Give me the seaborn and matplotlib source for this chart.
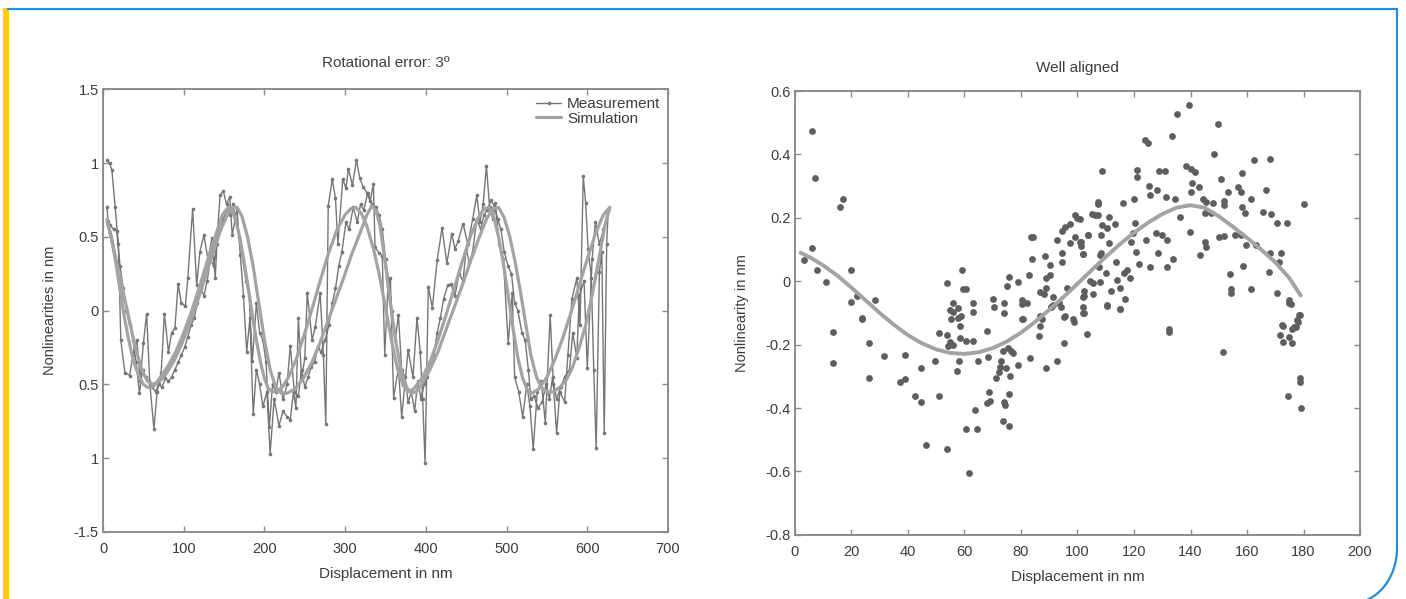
import numpy as np
import pandas as pd
import seaborn as sns
import matplotlib.pyplot as plt
from matplotlib.patches import Arc
from matplotlib.lines import Line2D

### DATA

# left panel: measurement, forward sweep (displacement nm, nonlinearity nm)
meas_fwd = [(5, 1.02), (8, 1.00), (11, 0.95), (15, 0.70), (19, 0.45), (22, -0.20), (27, -0.42), (33, -0.44),
            (37, -0.30), (42, -0.20), (46, -0.48), (50, -0.22), (54, -0.02), (58, -0.50), (63, -0.80), (67, -0.55),
            (72, -0.42), (76, -0.02), (81, -0.28), (85, -0.15), (89, -0.12), (93, 0.18), (97, 0.05), (102, 0.03),
            (105, 0.22), (111, 0.69), (116, 0.17), (120, 0.40), (125, 0.51), (130, 0.35), (135, 0.49), (139, 0.22),
            (142, 0.55), (145, 0.78), (149, 0.81), (153, 0.72), (157, 0.77), (160, 0.51), (166, 0.69), (170, 0.38),
            (174, 0.10), (178, -0.28), (182, -0.05), (186, -0.70), (190, -0.40), (194, -0.50), (198, -0.65),
            (203, -0.55), (207, -0.97), (212, -0.60), (218, -0.78), (223, -0.68), (228, -0.72), (232, -0.74),
            (236, -0.55), (239, -0.66), (242, -0.05), (246, -0.46), (250, -0.32), (253, 0.12), (259, -0.20),
            (263, -0.11), (269, 0.12), (273, -0.30), (276, -0.77), (279, 0.71), (284, 0.89), (288, 0.76),
            (291, 0.45), (297, 0.89), (301, 0.83), (304, 0.96), (309, 0.85), (314, 1.02), (318, 0.90), (322, 0.84),
            (327, 0.80), (331, 0.74), (335, 0.86), (337, 0.43), (342, 0.39), (346, 0.37), (349, -0.30), (353, 0.16),
            (356, 0.22), (360, -0.59), (366, -0.39), (370, -0.72), (374, -0.50), (378, -0.27), (384, -0.45),
            (389, -0.05), (393, -0.28), (396, -0.60), (399, -1.03), (403, 0.16), (408, 0.02), (414, 0.34),
            (420, 0.56), (426, 0.32), (432, 0.52), (436, 0.42), (440, 0.47), (446, 0.59), (452, 0.45), (458, 0.62),
            (463, 0.78), (467, 0.60), (471, 0.72), (475, 0.98), (479, 0.70), (483, 0.62), (486, 0.73), (491, 0.45),
            (496, 0.35), (502, -0.22), (507, 0.12), (510, -0.45), (515, -0.55), (520, -0.72), (525, -0.50),
            (529, -0.65), (533, -0.94), (538, -0.55), (543, -0.48), (548, -0.76), (554, -0.03), (558, -0.50),
            (562, -0.83), (566, -0.55), (572, -0.62), (576, -0.30), (581, 0.08), (587, 0.22), (591, -0.10),
            (595, 0.91), (598, 0.73), (601, 0.42), (605, 0.22), (608, -0.40), (611, -0.93), (615, 0.26),
            (618, 0.40), (621, -0.83), (624, 0.45), (626, 0.68)]

# left panel: measurement, return sweep
meas_back = [(626, 0.68), (620, 0.55), (615, 0.45), (610, 0.60), (606, 0.35), (600, -0.39), (596, 0.20),
             (590, 0.10), (587, -0.32), (582, -0.15), (578, -0.40), (572, -0.45), (567, -0.52), (562, -0.60),
             (557, -0.45), (553, -0.60), (549, -0.50), (544, -0.62), (539, -0.66), (534, -0.58), (530, -0.60),
             (527, -0.40), (523, -0.20), (519, -0.15), (514, 0.00), (510, 0.05), (506, 0.25), (502, 0.30),
             (497, 0.40), (493, 0.55), (489, 0.62), (485, 0.70), (481, 0.75), (476, 0.68), (472, 0.65),
             (468, 0.55), (463, 0.62), (458, 0.40), (454, 0.32), (450, 0.42), (446, 0.20), (441, 0.25),
             (436, 0.10), (431, 0.18), (427, 0.17), (422, 0.08), (418, -0.05), (414, -0.15), (410, -0.30),
             (406, -0.35), (402, -0.45), (398, -0.50), (394, -0.60), (390, -0.48), (386, -0.68), (382, -0.55),
             (378, -0.62), (374, -0.45), (370, -0.40), (366, -0.03), (362, -0.20), (358, 0.00), (354, 0.20),
             (350, 0.35), (346, 0.55), (342, 0.65), (338, 0.70), (333, 0.72), (328, 0.80), (323, 0.68),
             (319, 0.72), (315, 0.60), (310, 0.70), (305, 0.55), (301, 0.60), (296, 0.40), (292, 0.30),
             (288, 0.15), (284, 0.05), (280, -0.10), (275, -0.20), (270, -0.28), (266, -0.25), (262, -0.35),
             (258, -0.38), (254, -0.45), (250, -0.52), (246, -0.40), (242, -0.58), (237, -0.55), (232, -0.24),
             (228, -0.50), (223, -0.60), (218, -0.42), (214, -0.55), (210, -0.50), (206, -0.79), (202, -0.35),
             (198, -0.20), (194, -0.15), (190, 0.05), (185, -0.34), (181, 0.10), (177, 0.20), (173, 0.35),
             (169, 0.50), (165, 0.60), (161, 0.72), (157, 0.65), (153, 0.68), (149, 0.62), (145, 0.55),
             (141, 0.45), (137, 0.30), (133, 0.35), (129, 0.20), (125, 0.10), (121, 0.15), (117, 0.05),
             (113, -0.05), (109, -0.10), (105, -0.18), (101, -0.25), (97, -0.30), (93, -0.35), (89, -0.40),
             (85, -0.45), (81, -0.48), (77, -0.46), (73, -0.52), (69, -0.50), (65, -0.55), (61, -0.52),
             (57, -0.48), (53, -0.45), (49, -0.40), (45, -0.56), (41, -0.35), (37, -0.20), (33, -0.10),
             (29, 0.00), (25, 0.15), (21, 0.30), (17, 0.54), (13, 0.55), (9, 0.58), (6, 0.61), (5, 0.70)]

# left panel: simulation, forward and return branch
sim_fwd = [(5, 0.62), (10, 0.50), (15, 0.35), (20, 0.18), (25, 0.0), (30, -0.15), (35, -0.28), (40, -0.38),
           (45, -0.45), (50, -0.50), (55, -0.52), (60, -0.52), (65, -0.50), (70, -0.46), (80, -0.38), (90, -0.28),
           (100, -0.15), (110, 0.0), (120, 0.17), (130, 0.35), (140, 0.52), (148, 0.65), (155, 0.70), (160, 0.68),
           (165, 0.60), (170, 0.48), (175, 0.32), (180, 0.15), (185, -0.03), (190, -0.20), (195, -0.35),
           (200, -0.46), (205, -0.53), (210, -0.55), (215, -0.55), (222, -0.52), (230, -0.45), (240, -0.32),
           (250, -0.15), (260, 0.03), (270, 0.22), (280, 0.40), (290, 0.55), (300, 0.65), (307, 0.69),
           (313, 0.70), (320, 0.66), (327, 0.57), (335, 0.42), (342, 0.25), (350, 0.02), (358, -0.22),
           (365, -0.40), (372, -0.51), (378, -0.55), (385, -0.53), (395, -0.46), (405, -0.35), (415, -0.20),
           (425, -0.03), (435, 0.15), (445, 0.33), (455, 0.50), (465, 0.63), (472, 0.69), (478, 0.70),
           (484, 0.64), (490, 0.50), (496, 0.32), (502, 0.10), (508, -0.12), (514, -0.32), (520, -0.46),
           (526, -0.54), (532, -0.56), (540, -0.53), (550, -0.45), (560, -0.33), (570, -0.18), (580, -0.01),
           (590, 0.17), (600, 0.35), (610, 0.52), (620, 0.65), (628, 0.70)]

sim_back = [(628, 0.70), (622, 0.58), (616, 0.40), (610, 0.22), (604, 0.05), (598, -0.10), (590, -0.25),
            (582, -0.38), (574, -0.47), (566, -0.52), (558, -0.55), (550, -0.55), (543, -0.52), (537, -0.45),
            (530, -0.30), (524, -0.10), (518, 0.10), (511, 0.32), (504, 0.50), (497, 0.63), (490, 0.70),
            (483, 0.69), (475, 0.62), (465, 0.48), (455, 0.33), (445, 0.17), (435, 0.02), (425, -0.13),
            (415, -0.28), (405, -0.40), (395, -0.50), (388, -0.55), (382, -0.56), (376, -0.52), (370, -0.42),
            (363, -0.22), (356, 0.05), (349, 0.35), (343, 0.58), (338, 0.68), (333, 0.71), (327, 0.65),
            (318, 0.52), (308, 0.38), (298, 0.22), (288, 0.07), (278, -0.08), (268, -0.23), (258, -0.36),
            (248, -0.46), (238, -0.53), (228, -0.56), (221, -0.56), (214, -0.52), (207, -0.40), (200, -0.20),
            (193, 0.05), (186, 0.30), (179, 0.50), (172, 0.64), (166, 0.70), (160, 0.70), (154, 0.65),
            (146, 0.55), (138, 0.42), (128, 0.25), (118, 0.08), (108, -0.08), (98, -0.22), (88, -0.34),
            (78, -0.43), (70, -0.48), (62, -0.50), (55, -0.48), (48, -0.40), (40, -0.25), (32, -0.05),
            (24, 0.15), (16, 0.35), (10, 0.50), (5, 0.60)]

left_yticks = [1.5, 1, 0.5, 0, -0.5, -1, -1.5]
left_yticklabels = ['1.5', '1', '0.5', '0', '0.5', '1', '-1.5']

# right panel: measured points (displacement nm, nonlinearity nm)
pts = [(6.1, 0.475), (7.1, 0.327), (6.1, 0.104), (3.3, 0.066), (7.9, 0.037), (10.9, -0.003), (15.9, 0.235),
       (17.1, 0.26), (19.8, 0.037), (21.8, -0.046), (20.0, -0.065), (23.6, -0.118), (28.3, -0.06), (53.9, -0.007),
       (59.3, 0.037), (59.6, -0.025), (60.6, -0.025), (55.8, -0.07), (54.8, -0.09), (57.8, -0.085), (58.6, -0.11),
       (63.1, -0.068), (70.2, -0.057), (74.1, -0.07), (75.9, 0.015), (75.1, -0.016), (78.9, -0.003), (82.8, 0.02),
       (84.0, 0.07), (84.2, 0.14), (83.4, 0.14), (80.2, -0.06), (82.0, -0.07), (80.8, -0.12), (86.7, -0.035),
       (88.5, 0.08), (89.0, 0.01), (90.2, 0.02), (89.0, -0.02), (88.3, -0.04), (90.2, 0.05), (91.4, -0.05),
       (90.8, -0.08), (86.7, -0.11), (92.6, 0.13), (94.4, 0.16), (95.6, 0.17), (94.4, 0.06), (94.4, 0.09),
       (97.3, 0.18), (99.1, 0.21), (99.7, 0.20), (99.1, 0.14), (97.3, 0.12), (100.9, 0.125), (101.4, 0.11),
       (102.0, 0.085), (103.8, 0.145), (106.1, 0.21), (107.3, 0.21), (107.3, 0.245), (104.4, 0.0), (105.6, -0.04),
       (102.3, -0.03), (95.6, -0.11), (98.5, -0.12), (93.5, -0.07), (96.4, -0.02), (102.0, -0.05), (102.0, -0.08),
       (108.3, 0.09),
       (13.6, -0.161), (13.6, -0.259), (23.6, -0.117), (26.3, -0.196), (26.3, -0.304), (31.6, -0.236),
       (38.9, -0.233), (37.2, -0.317), (39.0, -0.309), (42.5, -0.361), (44.6, -0.38), (44.6, -0.275),
       (46.3, -0.517), (49.5, -0.253), (51.0, -0.164), (51.0, -0.361), (53.7, -0.53), (53.7, -0.17),
       (54.8, -0.19), (55.4, -0.118), (55.8, -0.097), (57.8, -0.116), (58.4, -0.142), (58.4, -0.18),
       (58.0, -0.25), (57.2, -0.283), (56.0, -0.2), (54.3, -0.205), (60.5, -0.467), (61.7, -0.604),
       (63.1, -0.096), (63.7, -0.407), (64.3, -0.467), (60.7, -0.187), (63.1, -0.187), (64.9, -0.25),
       (68.1, -0.157), (68.4, -0.24), (68.1, -0.385), (69.2, -0.378), (68.7, -0.35), (70.4, -0.08),
       (71.1, -0.306), (72.2, -0.285), (72.5, -0.27), (73.1, -0.25), (73.7, -0.22), (73.9, -0.1),
       (73.7, -0.44), (73.9, -0.38), (74.3, -0.39), (75.9, -0.458), (75.6, -0.355), (74.6, -0.274),
       (76.1, -0.298), (76.4, -0.22), (77.0, -0.227), (75.5, -0.21), (79.0, -0.265), (80.2, -0.12),
       (80.5, -0.072), (83.1, -0.243), (86.4, -0.172), (87.3, -0.12), (86.7, -0.14), (89.0, -0.274),
       (90.5, -0.08), (91.4, -0.076), (92.8, -0.25), (94.1, -0.082), (95.2, -0.113), (95.2, -0.195),
       (98.8, -0.13), (102.3, -0.1), (103.5, -0.166),
       (139.5, 0.556), (135.3, 0.527), (149.6, 0.496), (133.5, 0.459), (123.9, 0.445), (124.8, 0.435),
       (148.2, 0.403), (162.4, 0.382), (168.1, 0.385), (108.7, 0.349), (120.9, 0.351), (120.9, 0.328),
       (128.8, 0.349), (130.9, 0.349), (138.4, 0.364), (140.1, 0.354), (141.5, 0.346), (150.9, 0.323),
       (158.3, 0.341), (140.7, 0.311), (143.1, 0.296), (153.4, 0.282), (156.9, 0.296), (158.0, 0.282),
       (161.3, 0.261), (166.8, 0.287), (125.4, 0.3), (128.3, 0.287), (125.6, 0.271), (131.2, 0.266),
       (134.5, 0.261), (120.0, 0.261), (116.1, 0.246), (140.3, 0.282), (144.5, 0.261), (145.6, 0.25),
       (148.0, 0.247), (151.8, 0.253), (151.8, 0.242), (158.4, 0.235), (159.2, 0.216), (165.7, 0.217),
       (168.6, 0.212), (180.2, 0.244), (170.6, 0.185), (174.2, 0.185), (136.2, 0.204), (145.0, 0.214),
       (147.4, 0.214), (107.2, 0.251), (105.2, 0.211), (111.3, 0.202), (108.7, 0.178), (110.5, 0.168),
       (113.4, 0.181), (120.5, 0.184), (100.8, 0.196), (108.3, 0.146), (103.8, 0.146), (101.4, 0.125),
       (111.3, 0.122), (119.7, 0.151), (118.9, 0.123), (124.1, 0.13), (127.8, 0.151), (129.8, 0.146),
       (131.8, 0.13), (139.7, 0.156), (145.0, 0.125), (145.6, 0.107), (150.2, 0.14), (151.8, 0.142),
       (155.7, 0.146), (158.0, 0.146), (159.5, 0.114), (163.1, 0.114), (168.1, 0.088), (172.0, 0.088),
       (171.4, 0.061), (167.8, 0.03), (158.6, 0.048), (154.1, 0.022), (154.5, -0.023), (154.5, -0.036),
       (161.3, -0.025), (170.5, -0.036), (175.0, -0.06), (175.5, -0.073), (178.6, -0.105), (177.7, -0.123),
       (176.5, -0.144), (172.9, -0.142), (102.0, 0.085), (107.9, 0.083), (107.6, 0.046), (110.2, 0.027),
       (113.8, 0.061), (120.6, 0.093), (121.8, 0.053), (125.6, 0.046), (128.5, 0.088), (131.8, 0.044),
       (133.7, 0.07), (143.4, 0.083), (102.3, -0.047), (105.6, -0.007), (107.9, -0.002), (112.0, -0.03),
       (114.9, -0.02), (116.5, 0.025), (117.4, 0.036), (114.0, 0.005), (118.6, 0.01), (110.3, -0.075),
       (114.9, -0.089), (116.7, -0.057), (102.0, -0.1), (132.4, -0.152),
       (110.3, -0.077), (114.9, -0.088), (132.5, -0.161), (151.6, -0.222), (172.5, -0.137), (171.6, -0.17),
       (172.8, -0.19), (174.9, -0.175), (176.0, -0.196), (175.8, -0.151), (177.3, -0.143), (178.1, -0.128),
       (178.5, -0.107), (174.9, -0.07), (178.7, -0.304), (178.7, -0.319), (174.6, -0.362), (179.1, -0.401)]

# right panel: fitted curve
fit = [(2, 0.090), (6, 0.072), (10, 0.050), (15, 0.018), (20, -0.020), (25, -0.060), (30, -0.100),
       (35, -0.137), (40, -0.170), (45, -0.196), (50, -0.215), (55, -0.226), (60, -0.229), (65, -0.224),
       (70, -0.211), (75, -0.190), (80, -0.162), (85, -0.128), (90, -0.090), (95, -0.050), (100, -0.008),
       (105, 0.035), (110, 0.077), (115, 0.117), (120, 0.153), (125, 0.185), (130, 0.212), (135, 0.232),
       (140, 0.240), (145, 0.232), (150, 0.205), (155, 0.172), (160, 0.137), (165, 0.100), (170, 0.060),
       (175, 0.010), (179, -0.045)]

### PLOT

sns.set_theme(style='white')
plt.rcParams['font.family'] = ['Liberation Sans', 'DejaVu Sans']

txt = '#3c3c3c'
spine = '#8c8c8c'

fig = plt.figure(figsize=(14.06, 5.99), dpi=100)
ax1 = fig.add_axes([0.0733, 0.112, 0.4018, 0.739])
ax2 = fig.add_axes([0.5654, 0.107, 0.4019, 0.741])

df_meas = pd.DataFrame(meas_fwd + meas_back, columns=['x', 'y'])
df_sim = pd.DataFrame(sim_fwd + sim_back, columns=['x', 'y'])
sns.lineplot(data=df_meas, x='x', y='y', sort=False, estimator=None, ax=ax1, color='#767676', lw=1.0,
             marker='o', markersize=2.6, markeredgewidth=0, label='Measurement')
sns.lineplot(data=df_sim, x='x', y='y', sort=False, estimator=None, ax=ax1, color='#a3a3a3', lw=2.3,
             label='Simulation')

ax1.set_xlim(0, 700)
ax1.set_ylim(-1.5, 1.5)
ax1.set_xticks(range(0, 701, 100))
ax1.set_yticks(left_yticks)
ax1.set_yticklabels(left_yticklabels)
ax1.set_title('Rotational error: 3º', fontsize=11, color=txt, pad=16)
ax1.set_xlabel('Displacement in nm', fontsize=11, color=txt, labelpad=8)
ax1.set_ylabel('Nonlinearities in nm', fontsize=10.5, color=txt, labelpad=12)
leg = ax1.legend(loc='upper right', frameon=False, fontsize=11, handlelength=1.6, borderaxespad=0.1,
                 labelspacing=0.05, handletextpad=0.4, labelcolor=txt)

df_pts = pd.DataFrame(pts, columns=['x', 'y'])
df_fit = pd.DataFrame(fit, columns=['x', 'y'])
sns.scatterplot(data=df_pts, x='x', y='y', ax=ax2, color='#5e5e5e', s=24, linewidth=0)
sns.lineplot(data=df_fit, x='x', y='y', ax=ax2, color='#a3a3a3', lw=2.8)
ax2.set_xlim(0, 200)
ax2.set_ylim(-0.8, 0.6)
ax2.set_xticks(range(0, 201, 20))
ax2.set_yticks([0.6, 0.4, 0.2, 0, -0.2, -0.4, -0.6, -0.8])
ax2.set_yticklabels(['0.6', '0.4', '0.2', '0', '-0.2', '-0.4', '-0.6', '-0.8'])
ax2.set_title('Well aligned', fontsize=11, color=txt, pad=14)
ax2.set_xlabel('Displacement in nm', fontsize=11, color=txt, labelpad=8)
ax2.set_ylabel('Nonlinearity in nm', fontsize=10.5, color=txt, labelpad=12)

for ax in (ax1, ax2):
    for s in ax.spines.values():
        s.set_color(spine)
        s.set_linewidth(1.4)
    ax.tick_params(direction='in', length=4, width=1, color=spine, labelsize=10.5, labelcolor=txt,
                   top=True, right=True, bottom=True, left=True)
    ax.tick_params(axis='x', pad=7)
    ax.tick_params(axis='y', pad=3)

# page frame: yellow bar on the left, blue border top and right with rounded bottom corner
frame = fig.add_axes([0, 0, 1, 1], zorder=-1)
frame.set_xlim(0, 1406)
frame.set_ylim(599, 0)
frame.axis('off')
frame.add_line(Line2D([6, 6], [8, 599], color='#ffcc00', lw=4.5, solid_capstyle='butt'))
frame.add_line(Line2D([8, 1397], [9, 9], color='#2a8ad4', lw=1.6))
frame.add_line(Line2D([1397, 1397], [9, 548], color='#2a8ad4', lw=1.6))
frame.add_patch(Arc((1352, 548), 90, 110, theta1=0, theta2=90, color='#2a8ad4', lw=1.6))

fig.savefig('out.png', dpi=100)
